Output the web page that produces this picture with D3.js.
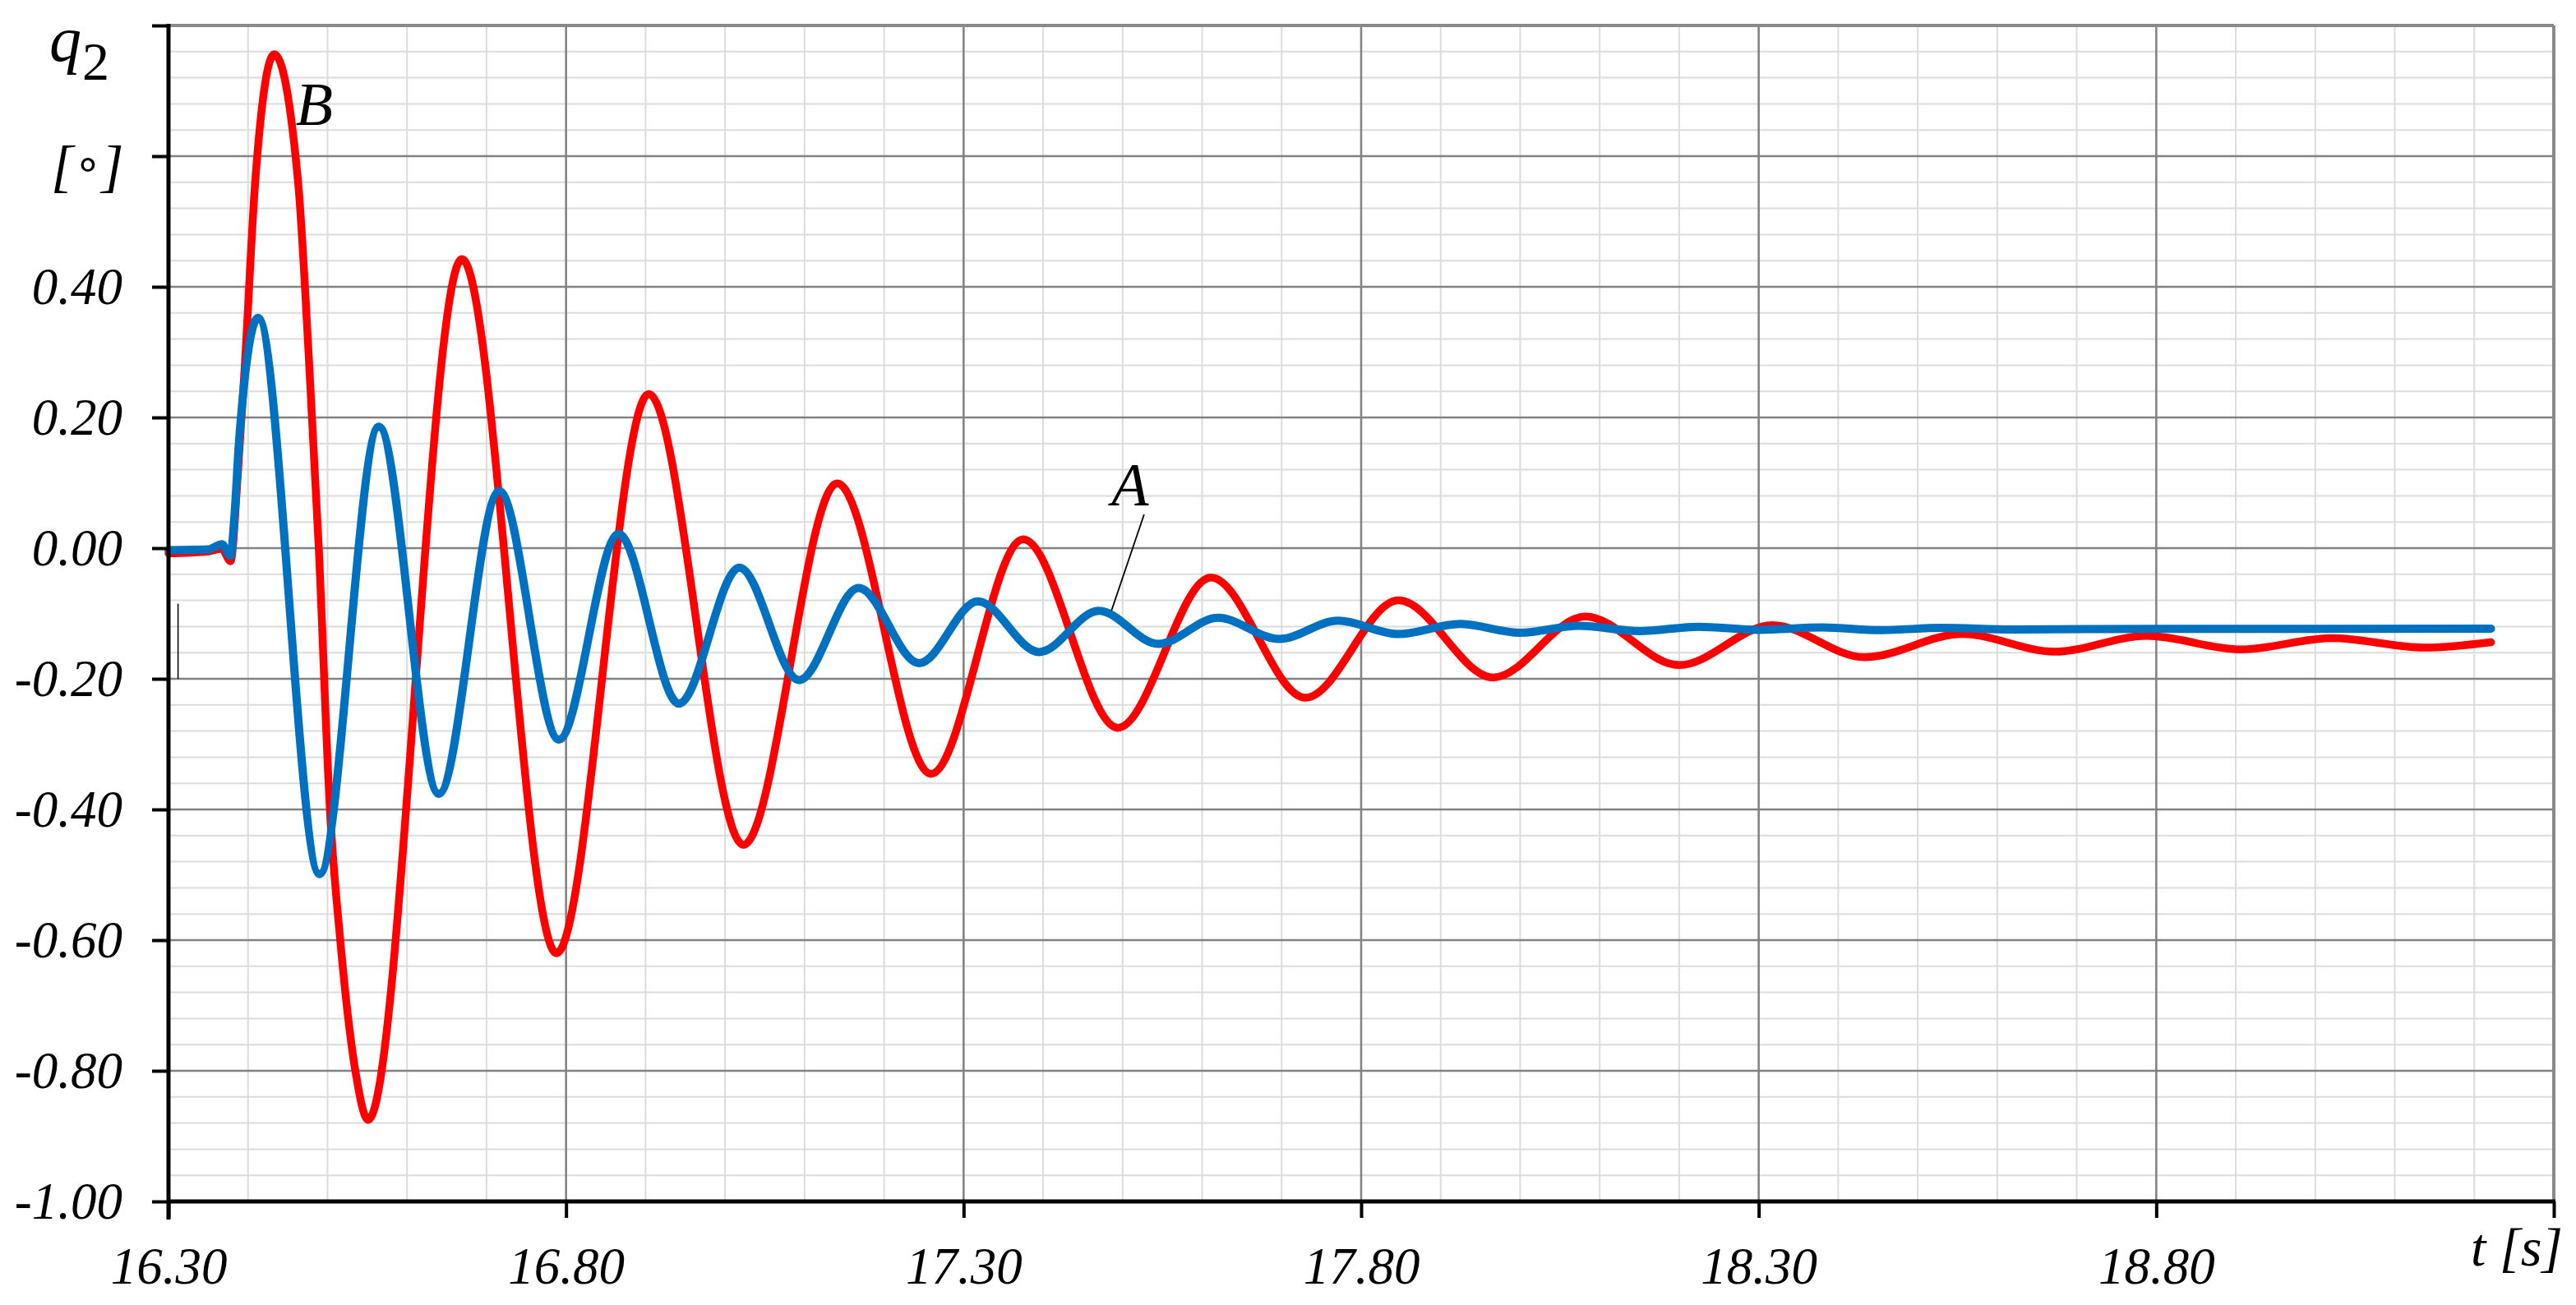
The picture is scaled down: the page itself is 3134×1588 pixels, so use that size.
<!DOCTYPE html>
<html>
<head>
<meta charset="utf-8">
<script src="https://cdn.jsdelivr.net/npm/d3@7"></script>
<style>
  html, body { margin: 0; padding: 0; background: #fff; }
  svg { display: block; }
  text { font-family: "Liberation Serif", "Times New Roman", serif; font-style: italic; fill: #000; }
</style>
</head>
<body>
<svg id="chart" width="3134" height="1588"></svg>
<script>
// ---------------- data ----------------
const xDomain = [16.3, 19.3];
const yDomain = [-1.0, 0.8];

const xTickValues = [16.3, 16.8, 17.3, 17.8, 18.3, 18.8, 19.3];
const xTickLabels = ["16.30", "16.80", "17.30", "17.80", "18.30", "18.80", ""];
const yTickValues = [-1.0, -0.8, -0.6, -0.4, -0.2, 0.0, 0.2, 0.4, 0.6, 0.8];
const yTickLabels = ["-1.00", "-0.80", "-0.60", "-0.40", "-0.20", "0.00", "0.20", "0.40", "", ""];
const xMinorStep = 0.1;
const yMinorStep = 0.04;

// Curve B (red)
const redT = [16.300, 16.350, 16.367, 16.378, 16.387, 16.396, 16.409, 16.433, 16.463, 16.477, 16.489,
  16.503, 16.516, 16.535, 16.551, 16.669, 16.788, 16.904, 17.023, 17.141, 17.259, 17.375, 17.494,
  17.611, 17.730, 17.847, 17.966, 18.082, 18.200, 18.317, 18.433, 18.556, 18.672, 18.788, 18.907,
  19.021, 19.137, 19.221];
const redV = [-0.008, -0.005, -0.001, -0.020, 0.11, 0.28, 0.56, 0.756, 0.56, 0.28, 0.00,
  -0.40, -0.60, -0.80, -0.875, 0.4425, -0.620, 0.236, -0.454, 0.099, -0.3455, 0.0135, -0.275,
  -0.045, -0.229, -0.080, -0.198, -0.1046, -0.179, -0.118, -0.167, -0.1315, -0.1585, -0.1344, -0.155,
  -0.1378, -0.1523, -0.144];

// Curve A (blue)
const blueT = [16.300, 16.350, 16.367, 16.378, 16.383, 16.389, 16.4126, 16.490, 16.5645, 16.640,
  16.716, 16.791, 16.866, 16.942, 17.018, 17.093, 17.168, 17.244, 17.318, 17.395, 17.470, 17.545,
  17.620, 17.697, 17.771, 17.847, 17.924, 18.000, 18.074, 18.150, 18.224, 18.300, 18.380, 18.455,
  18.530, 18.620, 18.800, 19.000, 19.221];
const blueV = [-0.003, -0.002, 0.006, -0.012, 0.05, 0.168, 0.3525, -0.499, 0.186, -0.376,
  0.0875, -0.293, 0.0216, -0.238, -0.030, -0.202, -0.061, -0.176, -0.0815, -0.159, -0.096, -0.1466,
  -0.1067, -0.139, -0.111, -0.1315, -0.116, -0.1295, -0.119, -0.127, -0.1203, -0.125, -0.1215, -0.1255,
  -0.122, -0.1245, -0.1235, -0.1235, -0.1232];

// annotations (data units)
const labelB = { t: 16.460, v: 0.648, text: "B" };
const labelA = { t: 17.486, v: 0.0654, text: "A" };
const leaderA = [[17.527, 0.0516], [17.486, -0.0956]];
const strayMark = [[16.312, -0.085], [16.312, -0.200]];

// ---------------- layout ----------------
const svg = d3.select("#chart");
const L = 205, T = 31, R = 3107, B = 1462;

const x = d3.scaleLinear().domain(xDomain).range([L, R]);
const y = d3.scaleLinear().domain(yDomain).range([B, T]);

const minorX = d3.range(Math.round((xDomain[1] - xDomain[0]) / xMinorStep) + 1)
  .map(i => +(xDomain[0] + i * xMinorStep).toFixed(3));
const minorY = d3.range(Math.round((yDomain[1] - yDomain[0]) / yMinorStep) + 1)
  .map(i => +(yDomain[0] + i * yMinorStep).toFixed(3));

const grid = svg.append("g");
// minor grid
grid.selectAll(".mx").data(minorX).join("line")
  .attr("x1", d => x(d)).attr("x2", d => x(d)).attr("y1", T).attr("y2", B)
  .attr("stroke", "#dcdcdc").attr("stroke-width", 2);
grid.selectAll(".my").data(minorY).join("line")
  .attr("x1", L).attr("x2", R).attr("y1", d => y(d)).attr("y2", d => y(d))
  .attr("stroke", "#dcdcdc").attr("stroke-width", 2);
// major grid
grid.selectAll(".Mx").data(xTickValues).join("line")
  .attr("x1", d => x(d)).attr("x2", d => x(d)).attr("y1", T).attr("y2", B)
  .attr("stroke", "#828282").attr("stroke-width", 2.5);
grid.selectAll(".My").data(yTickValues).join("line")
  .attr("x1", L).attr("x2", R).attr("y1", d => y(d)).attr("y2", d => y(d))
  .attr("stroke", "#828282").attr("stroke-width", 2.5);
// top/right border
grid.append("line").attr("x1", L).attr("x2", R).attr("y1", T).attr("y2", T)
  .attr("stroke", "#8a8a8a").attr("stroke-width", 4);
grid.append("line").attr("x1", R).attr("x2", R).attr("y1", T).attr("y2", B)
  .attr("stroke", "#8a8a8a").attr("stroke-width", 4);

// stray vertical mark
svg.append("line")
  .attr("x1", x(strayMark[0][0])).attr("x2", x(strayMark[1][0]))
  .attr("y1", y(strayMark[0][1])).attr("y2", y(strayMark[1][1]))
  .attr("stroke", "#000").attr("stroke-width", 1.5);

// curves
const line = d3.line().x(d => x(d[0])).y(d => y(d[1])).curve(d3.curveMonotoneX);
const redData = redT.map((t, i) => [t, redV[i]]);
const blueData = blueT.map((t, i) => [t, blueV[i]]);

svg.append("path").datum(redData).attr("d", line)
  .attr("fill", "none").attr("stroke", "#ff0000").attr("stroke-width", 9.5)
  .attr("stroke-linejoin", "round").attr("stroke-linecap", "round");
svg.append("path").datum(blueData).attr("d", line)
  .attr("fill", "none").attr("stroke", "#0070c0").attr("stroke-width", 10)
  .attr("stroke-linejoin", "round").attr("stroke-linecap", "round");

// axes
const xAxis = d3.axisBottom(x).tickValues(xTickValues)
  .tickFormat((d, i) => xTickLabels[i]).tickSize(20).tickPadding(36);
const yAxis = d3.axisLeft(y).tickValues(yTickValues)
  .tickFormat((d, i) => yTickLabels[i]).tickSize(20).tickPadding(36);

const gx = svg.append("g").attr("transform", `translate(0,${B})`).call(xAxis);
const gy = svg.append("g").attr("transform", `translate(${L},0)`).call(yAxis);
[gx, gy].forEach(g => {
  g.select(".domain").attr("stroke", "#000").attr("stroke-width", 5);
  g.selectAll(".tick line").attr("stroke", "#000").attr("stroke-width", 4);
  g.selectAll(".tick text")
    .style("font-family", '"Liberation Serif", "Times New Roman", serif')
    .style("font-style", "italic").attr("fill", "#000").attr("font-size", 63);
});
gx.select(".domain").attr("d", `M${L},0H${R + 2}`);
gy.select(".domain").attr("d", `M0,${T - 2}V${B + 22}`);
gx.selectAll(".tick text").attr("dy", "0.71em").attr("y", 55);
gy.selectAll(".tick text").attr("x", -56).attr("dy", "0.33em");

// axis titles
const q = svg.append("text").attr("x", 60).attr("y", 74).attr("font-size", 78);
q.append("tspan").text("q");
q.append("tspan").attr("x", 100).attr("y", 97).attr("font-size", 66)
  .style("font-style", "normal").text("2");

const deg = svg.append("text").attr("x", 62).attr("y", 226).attr("font-size", 70);
deg.append("tspan").text("[");
deg.append("tspan").attr("font-size", 54).attr("dx", 1).attr("dy", -9)
  .style("font-style", "normal").text("∘");
deg.append("tspan").attr("dx", -1).attr("dy", 9).text("]");

svg.append("text").attr("x", 3118).attr("y", 1540).attr("font-size", 66)
  .attr("text-anchor", "end").text("t [s]");

// curve labels
svg.append("text").attr("x", x(labelB.t)).attr("y", y(labelB.v))
  .attr("font-size", 74).text(labelB.text);
svg.append("text").attr("x", x(labelA.t)).attr("y", y(labelA.v))
  .attr("font-size", 74).text(labelA.text);
svg.append("line")
  .attr("x1", x(leaderA[0][0])).attr("y1", y(leaderA[0][1]))
  .attr("x2", x(leaderA[1][0])).attr("y2", y(leaderA[1][1]))
  .attr("stroke", "#000").attr("stroke-width", 1.8);
</script>
</body>
</html>
